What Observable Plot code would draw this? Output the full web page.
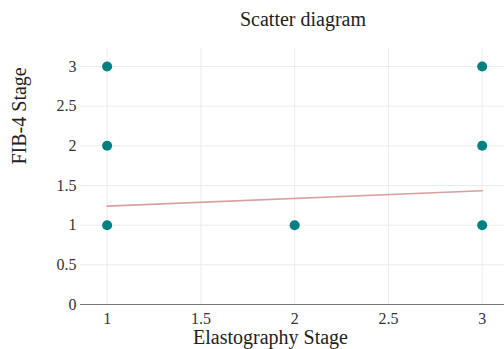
<!DOCTYPE html>
<html>
<head>
<meta charset="utf-8">
<script src="https://cdn.jsdelivr.net/npm/d3@7"></script>
<script src="https://cdn.jsdelivr.net/npm/@observablehq/plot@0.6"></script>
<style>
  html, body { margin: 0; padding: 0; background: #fff; }
  #wrap { width: 504px; height: 349px; overflow: hidden; }
  #title { height: 34px; line-height: 34px; font-family: "Liberation Serif", "Times New Roman", serif; font-size: 20px; color: #222; text-align: center; padding-left: 102px; box-sizing: border-box; width: 504px; padding-top: 2px; }
  #chart svg text { font-family: "Liberation Serif", "Times New Roman", serif; }
</style>
</head>
<body>
<div id="wrap">
  <div id="title">Scatter diagram</div>
  <div id="chart"></div>
</div>
<script>
const elastographyStage = [1, 1, 1, 2, 3, 3, 3];
const fib4Stage = [3, 2, 1, 1, 3, 2, 1];
const trendX = [1, 3];
const trendY = [1.24, 1.434];
const xTicks = [1, 1.5, 2, 2.5, 3];
const yTicks = [0, 0.5, 1, 1.5, 2, 2.5, 3];

const points = elastographyStage.map((x, i) => ({x, y: fib4Stage[i]}));
const trend = trendX.map((x, i) => ({x, y: trendY[i]}));
const serif = '"Liberation Serif", "Times New Roman", serif';
const fmt = d => String(d);

const chart = Plot.plot({
  width: 504,
  height: 315,
  marginTop: 14,
  marginBottom: 45,
  marginLeft: 80,
  marginRight: 0,
  style: {fontFamily: serif, fontSize: "16px", color: "#333", background: "#fff"},
  x: {domain: [0.858, 3.119], ticks: xTicks, label: null},
  y: {domain: [0, 3.227], ticks: yTicks, label: null},
  marks: [
    Plot.gridX(xTicks, {stroke: "#ebebeb", strokeOpacity: 1}),
    Plot.gridY(yTicks.filter(d => d > 0), {stroke: "#ebebeb", strokeOpacity: 1}),
    Plot.axisX(xTicks, {tickSize: 0, tickPadding: 8, fontSize: 16, fill: "#333", tickFormat: fmt, fontFamily: serif}),
    Plot.axisY(yTicks, {tickSize: 0, tickPadding: 4, fontSize: 16, fill: "#333", tickFormat: fmt, fontFamily: serif}),
    Plot.ruleY([0], {stroke: "#777", strokeWidth: 1}),
    Plot.line(trend, {x: "x", y: "y", stroke: "#d9a0a0", strokeWidth: 1.6}),
    Plot.dot(points, {x: "x", y: "y", r: 5, fill: "#008080", stroke: "none"}),
    Plot.text(["Elastography Stage"], {frameAnchor: "bottom", dx: -22, dy: 33, fontSize: 20, fill: "#222", lineAnchor: "middle", fontFamily: serif}),
    Plot.text(["FIB-4 Stage"], {frameAnchor: "left", dx: -61, dy: -12, rotate: -90, fontSize: 20, fill: "#222", lineAnchor: "middle", fontFamily: serif})
  ]
});
document.getElementById("chart").appendChild(chart);
</script>
</body>
</html>
